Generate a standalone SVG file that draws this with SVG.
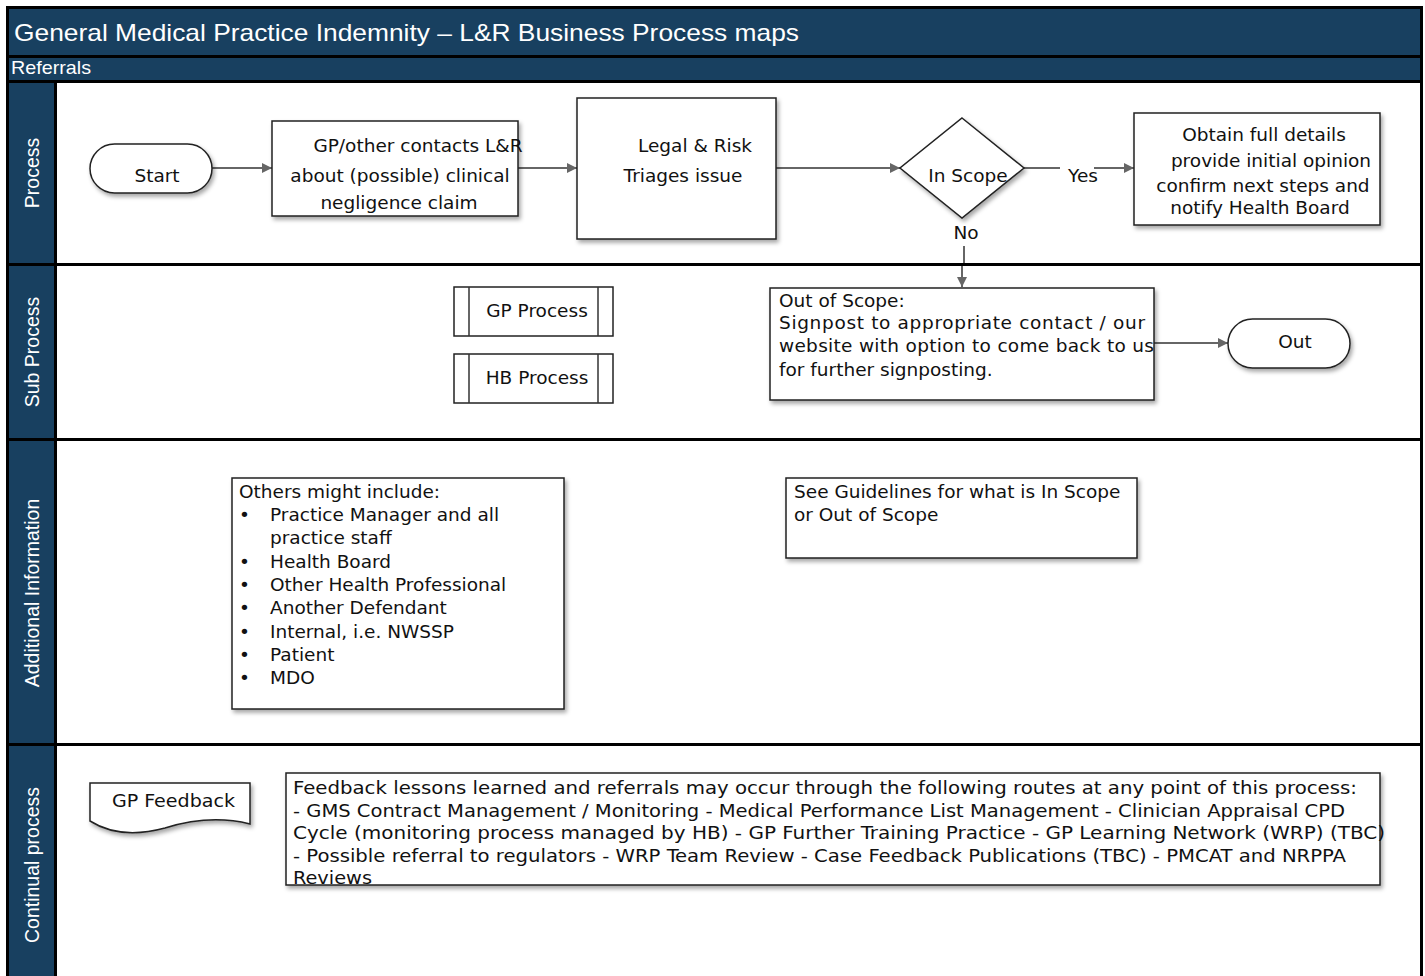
<svg xmlns="http://www.w3.org/2000/svg" width="1425" height="976" viewBox="0 0 1425 976">
<style>
.band{fill:#184060}
.lane{fill:#ffffff}
.hdr{font-family:"Liberation Sans",Arial,sans-serif;fill:#ffffff}
.lbl{font-family:"Liberation Sans",Arial,sans-serif;font-size:19.5px;fill:#ffffff;text-anchor:middle}
.box{fill:#ffffff;stroke:#222;stroke-width:1.5}
.t{font-family:"DejaVu Sans",Verdana,sans-serif;font-size:18.5px;fill:#111}
.tc{font-family:"DejaVu Sans Condensed","DejaVu Sans",sans-serif;font-size:18.5px;fill:#111}
.m{text-anchor:middle}
.con{stroke:#333;stroke-width:1.5;fill:none}
</style>
<defs>
<filter id="sh" x="-10%" y="-10%" width="130%" height="140%">
<feDropShadow dx="2" dy="3" stdDeviation="2" flood-color="#000" flood-opacity="0.35"/>
</filter>
<marker id="arr" markerUnits="userSpaceOnUse" markerWidth="11" markerHeight="10" refX="10" refY="5" orient="auto">
<path d="M0,0 L10,5 L0,10 z" fill="#666"/>
</marker>
</defs>
<rect x="0" y="0" width="1425" height="976" fill="#ffffff"/>
<rect x="6" y="6" width="1417" height="975" fill="#000"/>
<g id="header">
<rect class="band" x="9" y="9" width="1411" height="46"/>
<text class="hdr" x="14" y="41" font-size="24" textLength="785" lengthAdjust="spacingAndGlyphs">General Medical Practice Indemnity – L&amp;R Business Process maps</text>
<rect class="band" x="9" y="58" width="1411" height="22"/>
<text class="hdr" x="11" y="74" font-size="19" textLength="80" lengthAdjust="spacingAndGlyphs">Referrals</text>
</g>
<g id="lanes">
<rect class="band" x="9" y="83" width="45" height="180"/>
<rect class="lane" x="57" y="83" width="1363" height="180"/>
<rect class="band" x="9" y="266" width="45" height="172"/>
<rect class="lane" x="57" y="266" width="1363" height="172"/>
<rect class="band" x="9" y="441" width="45" height="302"/>
<rect class="lane" x="57" y="441" width="1363" height="302"/>
<rect class="band" x="9" y="746" width="45" height="235"/>
<rect class="lane" x="57" y="746" width="1363" height="235"/>
<text class="lbl" transform="translate(39,173) rotate(-90)">Process</text>
<text class="lbl" transform="translate(39,352) rotate(-90)">Sub Process</text>
<text class="lbl" transform="translate(39,593) rotate(-90)">Additional Information</text>
<text class="lbl" transform="translate(39,865) rotate(-90)">Continual process</text>
</g>
<g id="connectors">
<line class="con" x1="212" y1="168" x2="272" y2="168" marker-end="url(#arr)"/>
<line class="con" x1="518" y1="168" x2="577" y2="168" marker-end="url(#arr)"/>
<line class="con" x1="776" y1="168" x2="900" y2="168" marker-end="url(#arr)"/>
<line class="con" x1="1024" y1="168" x2="1060" y2="168"/>
<line class="con" x1="1094" y1="168" x2="1134" y2="168" marker-end="url(#arr)"/>
<text class="t m" x="1083" y="182">Yes</text>
<text class="t m" x="966" y="239">No</text>
<line class="con" x1="964" y1="246" x2="964" y2="263"/>
<line class="con" x1="962" y1="266" x2="962" y2="287" marker-end="url(#arr)"/>
<line class="con" x1="1154" y1="343" x2="1228" y2="343" marker-end="url(#arr)"/>
</g>
<g id="start">
<rect class="box" filter="url(#sh)" x="90" y="144" width="122" height="49" rx="24.5"/>
<text class="t m" x="157" y="182">Start</text>
</g>
<g id="gp-contacts">
<rect class="box" filter="url(#sh)" x="272" y="121" width="246" height="95"/>
<text class="t m" x="418" y="152">GP/other contacts L&amp;R</text>
<text class="t m" x="400" y="182">about (possible) clinical</text>
<text class="t m" x="399" y="209">negligence claim</text>
</g>
<g id="legal-risk">
<rect class="box" filter="url(#sh)" x="577" y="98" width="199" height="141"/>
<text class="t m" x="695" y="152">Legal &amp; Risk</text>
<text class="t m" x="683" y="182">Triages issue</text>
</g>
<g id="in-scope">
<polygon class="box" filter="url(#sh)" points="962,118 1024,168 962,218 900,168"/>
<text class="t m" x="968" y="182">In Scope</text>
</g>
<g id="obtain">
<rect class="box" filter="url(#sh)" x="1134" y="113" width="246" height="112"/>
<text class="t m" x="1264" y="141">Obtain full details</text>
<text class="t m" x="1271" y="167">provide initial opinion</text>
<text class="t m" x="1263" y="192">confirm next steps and</text>
<text class="t m" x="1260" y="214">notify Health Board</text>
</g>
<g id="gp-process">
<rect class="box" x="454" y="287" width="159" height="49"/>
<line class="con" x1="469" y1="287" x2="469" y2="336"/>
<line class="con" x1="598" y1="287" x2="598" y2="336"/>
<text class="t m" x="537" y="317">GP Process</text>
</g>
<g id="hb-process">
<rect class="box" x="454" y="354" width="159" height="49"/>
<line class="con" x1="469" y1="354" x2="469" y2="403"/>
<line class="con" x1="598" y1="354" x2="598" y2="403"/>
<text class="t m" x="537" y="384">HB Process</text>
</g>
<g id="out-of-scope">
<rect class="box" filter="url(#sh)" x="770" y="288" width="384" height="112"/>
<text class="t" x="779" y="307">Out of Scope:</text>
<text class="t" x="779" y="329" textLength="366" lengthAdjust="spacing">Signpost to appropriate contact / our</text>
<text class="t" x="779" y="352" textLength="375" lengthAdjust="spacing">website with option to come back to us</text>
<text class="t" x="779" y="376">for further signposting.</text>
</g>
<g id="out">
<rect class="box" filter="url(#sh)" x="1228" y="319" width="122" height="49" rx="24.5"/>
<text class="t m" x="1295" y="348">Out</text>
</g>
<g id="others">
<rect class="box" filter="url(#sh)" x="232" y="478" width="332" height="231"/>
<text class="t" x="239" y="498">Others might include:</text>
<g class="t">
<text x="239" y="521">•</text><text x="270" y="521">Practice Manager and all</text>
<text x="270" y="544">practice staff</text>
<text x="239" y="568">•</text><text x="270" y="568">Health Board</text>
<text x="239" y="591">•</text><text x="270" y="591">Other Health Professional</text>
<text x="239" y="614">•</text><text x="270" y="614">Another Defendant</text>
<text x="239" y="638">•</text><text x="270" y="638">Internal, i.e. NWSSP</text>
<text x="239" y="661">•</text><text x="270" y="661">Patient</text>
<text x="239" y="684">•</text><text x="270" y="684">MDO</text>
</g>
</g>
<g id="guidelines">
<rect class="box" filter="url(#sh)" x="786" y="478" width="351" height="80"/>
<text class="t" x="794" y="498">See Guidelines for what is In Scope</text>
<text class="t" x="794" y="521">or Out of Scope</text>
</g>
<g id="gp-feedback">
<path class="box" filter="url(#sh)" d="M90,783 L250,783 L250,824 Q210,814 165,828 Q120,840 90,821 Z"/>
<text class="tc" x="112" y="807" textLength="123" lengthAdjust="spacingAndGlyphs">GP Feedback</text>
</g>
<g id="feedback-routes">
<rect class="box" filter="url(#sh)" x="286" y="773" width="1094" height="112"/>
<text class="tc" x="293" y="794" textLength="1064" lengthAdjust="spacingAndGlyphs">Feedback lessons learned and referrals may occur through the following routes at any point of this process:</text>
<text class="tc" x="293" y="817" textLength="1052" lengthAdjust="spacingAndGlyphs">- GMS Contract Management / Monitoring - Medical Performance List Management - Clinician Appraisal CPD</text>
<text class="tc" x="293" y="839" textLength="1092" lengthAdjust="spacingAndGlyphs">Cycle (monitoring process managed by HB) - GP Further Training Practice - GP Learning Network (WRP) (TBC)</text>
<text class="tc" x="293" y="862" textLength="1053" lengthAdjust="spacingAndGlyphs">- Possible referral to regulators - WRP Team Review - Case Feedback Publications (TBC) - PMCAT and NRPPA</text>
<text class="tc" x="293" y="884" textLength="79" lengthAdjust="spacingAndGlyphs">Reviews</text>
</g>
</svg>
